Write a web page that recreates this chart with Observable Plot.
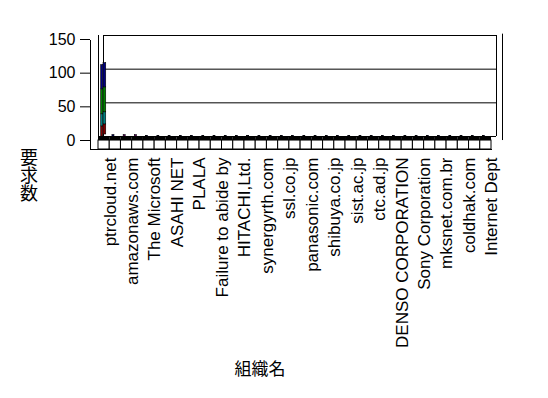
<!DOCTYPE html>
<html>
<head>
<meta charset="utf-8">
<script src="https://cdn.jsdelivr.net/npm/d3@7"></script>
<script src="https://cdn.jsdelivr.net/npm/@observablehq/plot@0.6"></script>
<style>
  html, body { margin: 0; padding: 0; background: #fff; }
  #wrap { position: relative; width: 548px; height: 398px; }
  #ytitle {
    position: absolute; left: 19px; top: 148px;
    font-family: 'Noto Sans CJK JP', sans-serif; font-size: 18px; line-height: 20px;
    writing-mode: vertical-rl; text-orientation: upright; color: #000;
  }
</style>
</head>
<body>
<div id="wrap"><div id="chart"></div><div id="ytitle"></div></div>
<script>
// Category labels shown on the axis (every other category is labelled)
const labels = ["ptrcloud.net","amazonaws.com","The Microsoft","ASAHI NET","PLALA","Failure to abide by","HITACHI,Ltd.","synergyrth.com","ssl.co.jp","panasonic.com","shibuya.co.jp","sist.ac.jp","ctc.ad.jp","DENSO CORPORATION","Sony Corporation","mksnet.com.br","coldhak.com","Internet Dept"];
const categoryCount = 35;
const yTicks = [0, 50, 100, 150];
const yTitle = "要求数";
const xTitle = "組織名";

// Series values (stacked), one entry per category
const seriesNames = ["系列1", "系列2", "系列3", "系列4", "系列5"];
const seriesColors = ["#800000", "#008080", "#008000", "#000080", "#800080"];
const series1 = [15,0,0,0,0,0,0,0,0,0,0,0,0,0,0,0,0,0,0,0,0,0,0,0,0,0,0,0,0,0,0,0,0,0,0];
const series2 = [18,0,0,0,0,0,0,0,0,0,0,0,0,0,0,0,0,0,0,0,0,0,0,0,0,0,0,0,0,0,0,0,0,0,0];
const series3 = [37,0,0,0,0,0,0,0,0,0,0,0,0,0,0,0,0,0,0,0,0,0,0,0,0,0,0,0,0,0,0,0,0,0,0];
const series4 = [36,2,0,0,1,1,1,1,1,1,1,1,1,1,1,1,1,1,1,1,1,1,1,1,1,1,1,1,1,1,1,1,1,1,1];
const series5 = [0,0,2,2,0,0,0,0,0,0,0,0,0,0,0,0,0,0,0,0,0,0,0,0,0,0,0,0,0,0,0,0,0,0,0];
const allSeries = [series1, series2, series3, series4, series5];

// floor slab extents (value units below zero)
const floorTop = -6, floorBottom = -19.3;

const rows = [];
allSeries.forEach((vals, s) => vals.forEach((v, i) => {
  rows.push({i, series: seriesNames[s], value: v});
}));
const cats = d3.range(categoryCount);
const cjk = "'Noto Sans CJK JP', sans-serif";

const chart = Plot.plot({
  width: 548,
  height: 398,
  marginLeft: 98,
  marginRight: 57,
  marginTop: 40,
  marginBottom: 249,
  style: {fontFamily: "'Liberation Sans', Arial, sans-serif", background: "#fff", color: "#000"},
  x: {type: "linear", domain: [0, categoryCount], range: [98, 491], axis: null, label: null},
  y: {domain: [0, 150], range: [136, 35], axis: null, label: null},
  color: {domain: seriesNames, range: seriesColors},
  marks: [
    // back wall gridlines and edges
    Plot.ruleY(yTicks, {dx: 5, stroke: "#000", strokeWidth: 1}),
    Plot.ruleX([categoryCount], {y1: 0, y2: 150, dx: 5, stroke: "#000"}),
    Plot.ruleX([categoryCount], {y1: floorTop, y2: 152, dx: 11, stroke: "#000"}),
    Plot.ruleX([0], {y1: 0, y2: 150, dx: 5, stroke: "#000"}),
    Plot.ruleX([0], {y1: floorTop, y2: 150, stroke: "#000"}),
    // front left edge
    Plot.frame({anchor: "left", dx: -8, stroke: "#000"}),
    Plot.frame({anchor: "bottom", insetLeft: -8, stroke: "#000"}),
    // floor: dark top strip and front cells
    Plot.rect(cats, {x1: d => d, x2: d => d + 1, y1: floorTop, y2: 0, fill: "#000"}),
    Plot.rect(cats, {x1: d => d, x2: d => d + 1, y1: floorBottom, y2: floorTop, fill: "#fff", stroke: "#000", strokeWidth: 1}),
    // bar side (depth)
    Plot.rectY(rows, Plot.stackY({x1: "i", x2: d => d.i + 1, y: "value", fill: "series", order: seriesNames,
      insetLeft: 3, insetRight: 5.5, dx: 2, dy: -2, stroke: "#000", strokeWidth: 0.6, filter: d => d.value > 5})),
    // bars
    Plot.rectY(rows, Plot.stackY({x1: "i", x2: d => d.i + 1, y: "value", fill: "series", order: seriesNames,
      insetLeft: 2.7, insetRight: 6.5, stroke: "#000", strokeWidth: 0.6, filter: d => d.value > 0})),
    // axes
    Plot.axisY({ticks: yTicks, tickSize: 10, tickPadding: 5, dx: -8, dy: 4, fontSize: 16, stroke: "#000", label: null}),
    Plot.axisX({ticks: d3.range(0, categoryCount, 2).map(i => i + 0.5), tickFormat: d => labels[(d - 0.5) / 2],
      tickRotate: -90, tickSize: 0, tickPadding: 8, dx: 6, fontSize: 17, anchor: "bottom", label: null}),
    Plot.text([xTitle], {frameAnchor: "bottom", dx: -35, dy: 225, fontSize: 17, fontFamily: cjk})
  ]
});
document.getElementById("chart").appendChild(chart);
document.getElementById("ytitle").textContent = yTitle;
</script>
</body>
</html>
